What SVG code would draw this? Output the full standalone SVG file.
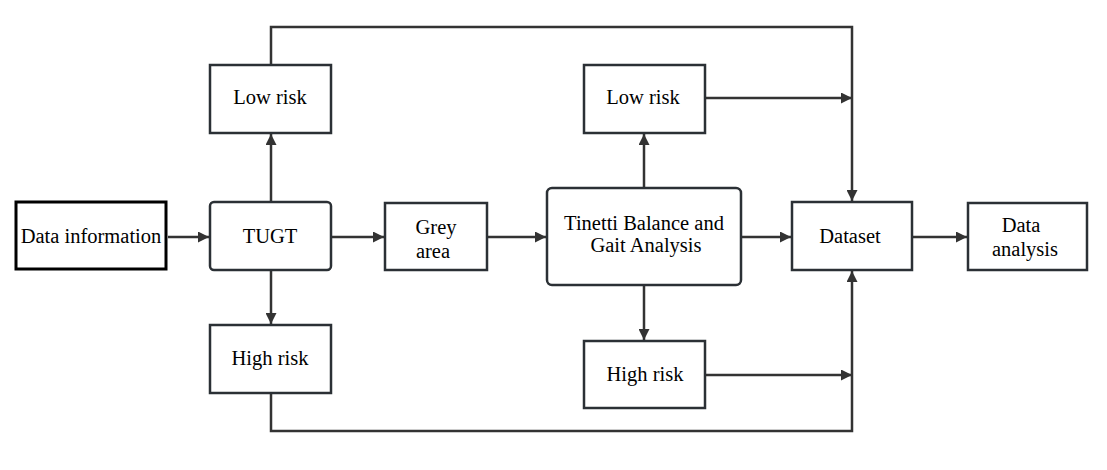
<svg xmlns="http://www.w3.org/2000/svg" width="1107" height="470" viewBox="0 0 1107 470">
<defs>
<style>
.box{fill:#fff;stroke:#2b3035;stroke-width:2.5}
.line{fill:none;stroke:#333;stroke-width:2.5}
text{font-family:"Liberation Serif","Times New Roman",serif;font-size:20.5px;fill:#000;text-anchor:middle}
</style>
<marker id="ah" viewBox="0 0 10 10" refX="10" refY="5" markerWidth="5.2" markerHeight="4.4" orient="auto" markerUnits="strokeWidth">
<path d="M0,0 L10,5 L0,10 z" fill="#333"/>
</marker>
</defs>
<rect width="1107" height="470" fill="#fff"/>
<g id="connectors">
<line class="line" x1="168" y1="237" x2="209" y2="237" marker-end="url(#ah)"/>
<line class="line" x1="271" y1="202" x2="271" y2="134" marker-end="url(#ah)"/>
<line class="line" x1="271" y1="270" x2="271" y2="324" marker-end="url(#ah)"/>
<line class="line" x1="331" y1="237" x2="384" y2="237" marker-end="url(#ah)"/>
<line class="line" x1="487" y1="237" x2="546" y2="237" marker-end="url(#ah)"/>
<line class="line" x1="644" y1="188" x2="644" y2="134" marker-end="url(#ah)"/>
<line class="line" x1="644" y1="285" x2="644" y2="340" marker-end="url(#ah)"/>
<line class="line" x1="741" y1="237" x2="791" y2="237" marker-end="url(#ah)"/>
<line class="line" x1="912" y1="237" x2="967" y2="237" marker-end="url(#ah)"/>
<line class="line" x1="705" y1="98" x2="852" y2="98" marker-end="url(#ah)"/>
<line class="line" x1="705" y1="375" x2="852" y2="375" marker-end="url(#ah)"/>
<polyline class="line" points="271,65 271,27 852,27 852,201" marker-end="url(#ah)"/>
<polyline class="line" points="271,393 271,431 852,431 852,271" marker-end="url(#ah)"/>
</g>
<g id="data-information">
<rect x="16" y="202" width="150" height="67" fill="#fff" stroke="#000" stroke-width="3"/>
<text x="91" y="243">Data information</text>
</g>
<g id="tugt">
<rect class="box" x="210" y="202" width="121" height="68" rx="4"/>
<text x="270" y="243">TUGT</text>
</g>
<g id="low-risk-1">
<rect class="box" x="210" y="65" width="121" height="68"/>
<text x="270" y="104">Low risk</text>
</g>
<g id="high-risk-1">
<rect class="box" x="210" y="325" width="121" height="68"/>
<text x="270" y="365">High risk</text>
</g>
<g id="grey-area">
<rect class="box" x="385" y="203" width="102" height="67"/>
<text x="436" y="234">Grey</text>
<text x="433" y="258">area</text>
</g>
<g id="tinetti">
<rect class="box" x="547" y="188" width="194" height="97" rx="5"/>
<text x="644" y="230">Tinetti Balance and</text>
<text x="646" y="252">Gait Analysis</text>
</g>
<g id="low-risk-2">
<rect class="box" x="584" y="65" width="121" height="68"/>
<text x="643" y="104">Low risk</text>
</g>
<g id="high-risk-2">
<rect class="box" x="584" y="341" width="121" height="67"/>
<text x="645" y="381">High risk</text>
</g>
<g id="dataset">
<rect class="box" x="792" y="202" width="120" height="68"/>
<text x="850" y="243">Dataset</text>
</g>
<g id="data-analysis">
<rect class="box" x="968" y="203" width="119" height="67"/>
<text x="1021" y="232">Data</text>
<text x="1025" y="256">analysis</text>
</g>
</svg>
